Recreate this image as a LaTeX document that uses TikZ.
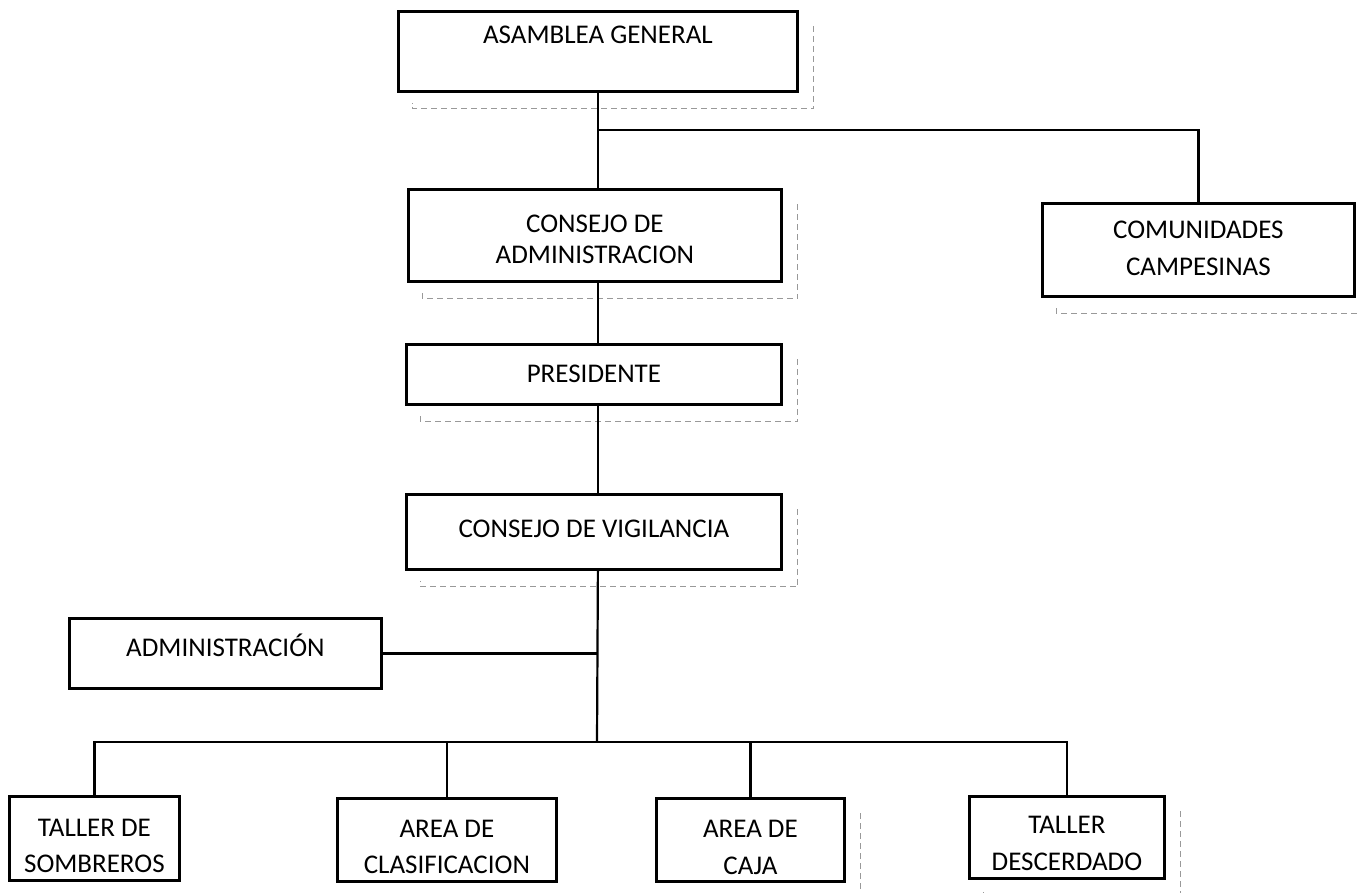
\documentclass[tikz,border=0pt]{standalone}
\usepackage{fontspec}
\setmainfont{Carlito}
\usetikzlibrary{positioning}

\tikzset{
  box/.style={draw, line width=2.8pt, anchor=north west, align=center,
              inner xsep=0pt, inner ysep=0pt,
              font=\fontsize{27}{31}\selectfont},
  link/.style={line width=2.2pt},
  ghost/.style={draw=black!40, line width=0.8pt, dash pattern=on 6pt off 4pt}
}
% faint offset frame behind a box
\newcommand{\ghostframe}[1]{%
  \draw[ghost] ([shift={(15,16)}]#1.north east) -- ([shift={(15,16)}]#1.south east)
               -- ([shift={(15,16)}]#1.south west) -- ++(0,-6);}

\begin{document}
\begin{tikzpicture}[x=1pt,y=-1pt]
  \useasboundingbox (0,0) rectangle (1357,892);

  \node[box, minimum width=399pt, text height=32pt, text depth=48pt] (asamblea)       at (397,10)   {ASAMBLEA GENERAL};
  \node[box, minimum width=373pt, text height=74pt, text depth=18pt] (consejo)        at (407,188)  {CONSEJO DE\\ADMINISTRACION};
  \node[box, minimum width=312pt, text height=72pt, text depth=21pt] (comunidades)    at (1041,202) {COMUNIDADES\\[6pt]CAMPESINAS};
  \node[box, minimum width=375pt, text height=38pt, text depth=22pt] (presidente)     at (405,343)  {PRESIDENTE};
  \node[box, minimum width=375pt, text height=43pt, text depth=32pt] (vigilancia)     at (405,493)  {CONSEJO DE VIGILANCIA};
  \node[box, minimum width=312pt, text height=38pt, text depth=32pt] (administracion) at (68,617)   {ADMINISTRACIÓN};
  \node[box, minimum width=170pt, text height=76pt, text depth=8pt]  (sombreros)      at (8,795)    {TALLER DE\\[5pt]SOMBREROS};
  \node[box, minimum width=219pt, text height=75pt, text depth=8pt]  (clasificacion)  at (336,797)  {AREA DE\\[5pt]CLASIFICACION};
  \node[box, minimum width=188pt, text height=76pt, text depth=7pt]  (caja)           at (655,797)  {AREA DE\\[6pt]CAJA};
  \node[box, minimum width=195pt, text height=74pt, text depth=8pt]  (descerdado)     at (968,795)  {TALLER\\[6pt]DESCERDADO};

  \ghostframe{asamblea}
  \ghostframe{consejo}
  \ghostframe{comunidades}
  \ghostframe{presidente}
  \ghostframe{vigilancia}
  \ghostframe{caja}
  \ghostframe{descerdado}

  \coordinate (branch) at (597,130);
  \coordinate (bus)    at (597,742);

  \draw[link] (asamblea.south) -- (asamblea.south |- consejo.north);
  \draw[link] (branch) -| (comunidades.north);
  \draw[link] (asamblea.south |- consejo.south) -- (asamblea.south |- presidente.north);
  \draw[link] (asamblea.south |- presidente.south) -- (asamblea.south |- vigilancia.north);
  \draw[link] (asamblea.south |- vigilancia.south) -- (bus);
  \draw[link] (administracion.east) -- (administracion.east -| bus);
  \draw[link] (sombreros.north) |- (bus) -| (descerdado.north);
  \draw[link] (clasificacion.north) -- (clasificacion.north |- bus);
  \draw[link] (caja.north) -- (caja.north |- bus);
\end{tikzpicture}
\end{document}
